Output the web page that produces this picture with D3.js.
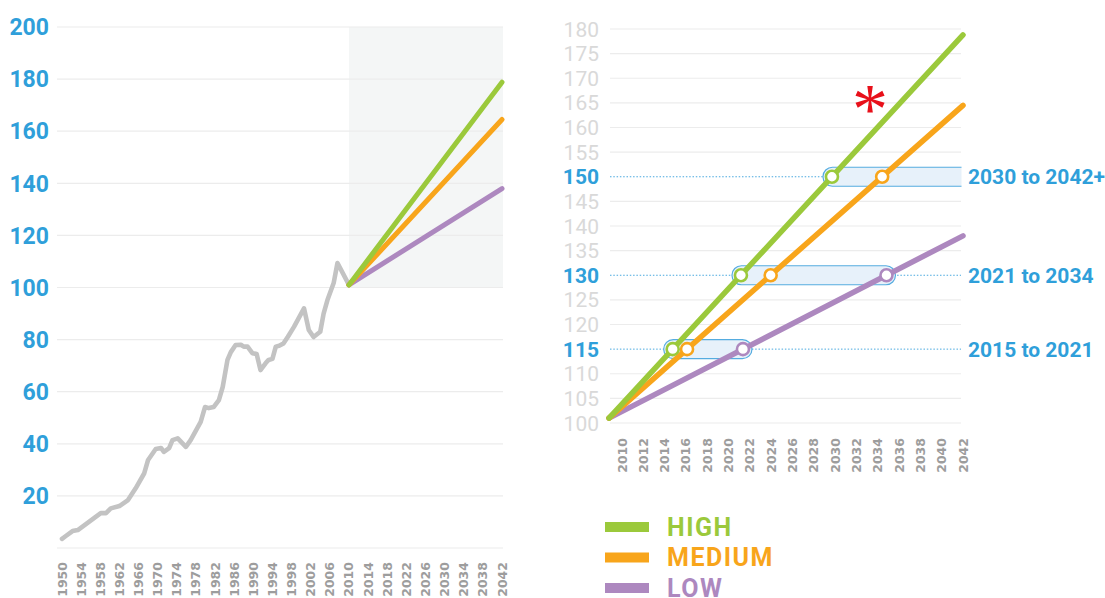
<!DOCTYPE html>
<html><head><meta charset="utf-8">
<script src="https://cdn.jsdelivr.net/npm/d3@7"></script>
<style>body{margin:0;background:#fff;} svg{display:block;}</style>
</head><body>
<svg id="c" width="1105" height="598"></svg>
<script>
// ---------- data ----------
const histYears = [1950, 1950.8, 1952.2, 1953.3, 1955, 1958.1, 1959.2, 1960.2, 1962, 1963.8, 1965.4, 1967.2, 1968, 1969.6, 1970.7, 1971.3, 1972.4, 1973.1, 1974.2, 1975.9, 1976.9, 1979, 1979.9, 1980.7, 1981.7, 1982.8, 1983.6, 1984.6, 1985.3, 1986.3, 1987.4, 1988, 1988.8, 1989.8, 1990.7, 1991.5, 1992.6, 1993.2, 1994, 1994.7, 1995.4, 1996.3, 1997.2, 1998.5, 2000.6, 2001.6, 2002.6, 2004, 2004.7, 2005.5, 2006.8, 2007.6, 2010];
const histValues = [3.5, 4.6, 6.5, 6.9, 9.2, 13.4, 13.4, 15.2, 16.1, 18.4, 22.9, 28.7, 33.8, 38, 38.4, 36.9, 38.3, 41.4, 42.1, 38.8, 41.4, 48.4, 54.1, 53.7, 54.1, 56.8, 61.8, 72.2, 75.2, 77.9, 78, 77.3, 77.3, 74.8, 74.5, 68.3, 71, 72.2, 72.6, 77.3, 77.6, 78.5, 81, 84.9, 92, 83.7, 81, 83, 90, 95.2, 101.7, 109.4, 101];
const projYears = [2010, 2042];
const highValues = [101, 178.8];
const mediumValues = [101, 164.5];
const lowValues = [101, 138];
const seriesNames = ["HIGH", "MEDIUM", "LOW"];
const seriesColors = ["#9bc93b", "#f8a51b", "#ad88bf"];
const leftYTicks = [0, 20, 40, 60, 80, 100, 120, 140, 160, 180, 200];
const leftXTicks = [1950, 1954, 1958, 1962, 1966, 1970, 1974, 1978, 1982, 1986, 1990, 1994, 1998, 2002, 2006, 2010, 2014, 2018, 2022, 2026, 2030, 2034, 2038, 2042];
const rightYTicks = [100, 105, 110, 115, 120, 125, 130, 135, 140, 145, 150, 155, 160, 165, 170, 175, 180];
const rightXTicks = [2010, 2012, 2014, 2016, 2018, 2020, 2022, 2024, 2026, 2028, 2030, 2032, 2034, 2036, 2038, 2040, 2042];
const thresholds = [115, 130, 150];
const rangeLabels = ["2015 to 2021", "2021 to 2034", "2030 to 2042+"];

const series = [
  {name: seriesNames[0], color: seriesColors[0], values: highValues},
  {name: seriesNames[1], color: seriesColors[1], values: mediumValues},
  {name: seriesNames[2], color: seriesColors[2], values: lowValues}
];

const BLUE = "#2f9fda";
const GRID = "#ececec";
const svg = d3.select("#c");

// ---------- left chart ----------
const xL = d3.scaleLinear().domain([1950, 2042]).range([62, 502]);
const yL = d3.scaleLinear().domain([0, 200]).range([548, 27]);
const L = svg.append("g");

L.append("rect")
  .attr("x", xL(2010)).attr("width", xL(2042) - xL(2010) + 1)
  .attr("y", yL(200)).attr("height", yL(100) - yL(200))
  .attr("fill", "#f4f6f6");

L.selectAll("line.grid").data(leftYTicks).join("line")
  .attr("x1", 57).attr("x2", 503)
  .attr("y1", d => yL(d)).attr("y2", d => yL(d))
  .attr("stroke", GRID).attr("stroke-width", 1.2);

L.selectAll("text.yl").data(leftYTicks.filter(d => d > 0)).join("text")
  .attr("x", 49).attr("y", d => yL(d)).attr("dy", "0.36em")
  .attr("text-anchor", "end")
  .attr("font-family", "Roboto").attr("font-weight", 700).attr("font-size", 23)
  .attr("fill", BLUE).text(d => d);

L.selectAll("text.xl").data(leftXTicks).join("text")
  .attr("transform", d => `translate(${xL(d)},562) rotate(-90)`)
  .attr("dy", "0.36em").attr("text-anchor", "end")
  .attr("font-family", "DejaVu Sans").attr("font-weight", 700).attr("font-size", 12.5)
  .attr("fill", "#9d9d9d").text(d => d);

const histLine = d3.line().x((d, i) => xL(histYears[i])).y(d => yL(d));
L.append("path").datum(histValues)
  .attr("d", histLine).attr("fill", "none")
  .attr("stroke", "#c3c3c3").attr("stroke-width", 4.6)
  .attr("stroke-linejoin", "round").attr("stroke-linecap", "round");

const projLineL = d3.line().x((d, i) => xL(projYears[i])).y(d => yL(d));
series.slice().reverse().forEach(s => {
  L.append("path").datum(s.values).attr("d", projLineL)
    .attr("fill", "none").attr("stroke", s.color).attr("stroke-width", 5)
    .attr("stroke-linecap", "round");
});

// ---------- right chart ----------
const xR = d3.scaleLinear().domain([2010, 2042]).range([609, 963]);
const xRLab = d3.scaleLinear().domain([2010, 2042]).range([622, 963]);
const yR = d3.scaleLinear().domain([100, 180]).range([423, 29]);
const R = svg.append("g");

R.append("clipPath").attr("id", "rc").append("rect")
  .attr("x", 600).attr("y", 0).attr("width", 361.5).attr("height", 598);

R.selectAll("line.grid").data(rightYTicks.filter(d => !thresholds.includes(d))).join("line")
  .attr("x1", 610).attr("x2", 961)
  .attr("y1", d => yR(d)).attr("y2", d => yR(d))
  .attr("stroke", GRID).attr("stroke-width", 1.2);

R.selectAll("line.dot").data(thresholds).join("line")
  .attr("x1", 610).attr("x2", 961)
  .attr("y1", d => yR(d)).attr("y2", d => yR(d))
  .attr("stroke", "#4aa9df").attr("stroke-width", 1).attr("stroke-dasharray", "1.5,1.8");

R.selectAll("text.yl").data(rightYTicks).join("text")
  .attr("x", 599).attr("y", d => yR(d)).attr("dy", "0.36em")
  .attr("text-anchor", "end")
  .attr("font-family", "Roboto")
  .attr("font-weight", d => thresholds.includes(d) ? 700 : 400)
  .attr("font-size", 21)
  .attr("fill", d => thresholds.includes(d) ? BLUE : "#d9d9d9").text(d => d);

R.selectAll("text.xl").data(rightXTicks).join("text")
  .attr("transform", d => `translate(${xRLab(d)},438) rotate(-90)`)
  .attr("dy", "0.36em").attr("text-anchor", "end")
  .attr("font-family", "DejaVu Sans").attr("font-weight", 700).attr("font-size", 12.5)
  .attr("fill", "#9d9d9d").text(d => d);

// year at which a projection reaches a threshold
function crossYear(vals, t) {
  if (t > vals[1]) return null;
  return projYears[0] + (t - vals[0]) / (vals[1] - vals[0]) * (projYears[1] - projYears[0]);
}

// highlight boxes
thresholds.forEach(t => {
  const yH = crossYear(highValues, t);
  const yLo = crossYear(lowValues, t);
  const x0 = xR(yH) - 9;
  const x1 = yLo !== null ? xR(yLo) + 9 : 990;
  R.append("rect")
    .attr("x", x0).attr("width", x1 - x0)
    .attr("y", yR(t) - 9.5).attr("height", 19).attr("rx", 9.5)
    .attr("fill", "#e7f1fa").attr("stroke", "#55ace0").attr("stroke-width", 1.2)
    .attr("clip-path", yLo === null ? "url(#rc)" : null);
});

const projLineR = d3.line().x((d, i) => xR(projYears[i])).y(d => yR(d));
series.slice().reverse().forEach(s => {
  R.append("path").datum(s.values).attr("d", projLineR)
    .attr("fill", "none").attr("stroke", s.color).attr("stroke-width", 5.5)
    .attr("stroke-linecap", "round");
});

// markers
series.forEach(s => {
  thresholds.forEach(t => {
    const yr = crossYear(s.values, t);
    if (yr === null) return;
    R.append("circle").attr("cx", xR(yr)).attr("cy", yR(t)).attr("r", 6)
      .attr("fill", "#fff").attr("stroke", s.color).attr("stroke-width", 2.6);
  });
});

// range labels
R.selectAll("text.rl").data(thresholds).join("text")
  .attr("x", 968).attr("y", d => yR(d)).attr("dy", "0.36em")
  .attr("font-family", "Roboto").attr("font-weight", 700).attr("font-size", 21)
  .attr("fill", BLUE).text((d, i) => rangeLabels[i]);

// asterisk
R.append("text").attr("x", 870).attr("y", 133).attr("text-anchor", "middle")
  .attr("font-family", "Liberation Serif").attr("font-size", 72)
  .attr("fill", "#e8101a").text("*");

// legend
const lg = svg.append("g");
series.forEach((s, i) => {
  const cy = 527 + i * 30.5;
  lg.append("rect").attr("x", 605).attr("y", cy - 5).attr("width", 44).attr("height", 10)
    .attr("fill", s.color);
  lg.append("text").attr("x", 667).attr("y", cy).attr("dy", "0.34em")
    .attr("font-family", "Roboto").attr("font-weight", 700).attr("font-size", 25)
    .attr("letter-spacing", 1.5)
    .attr("fill", s.color).text(s.name);
});
</script>
</body></html>
